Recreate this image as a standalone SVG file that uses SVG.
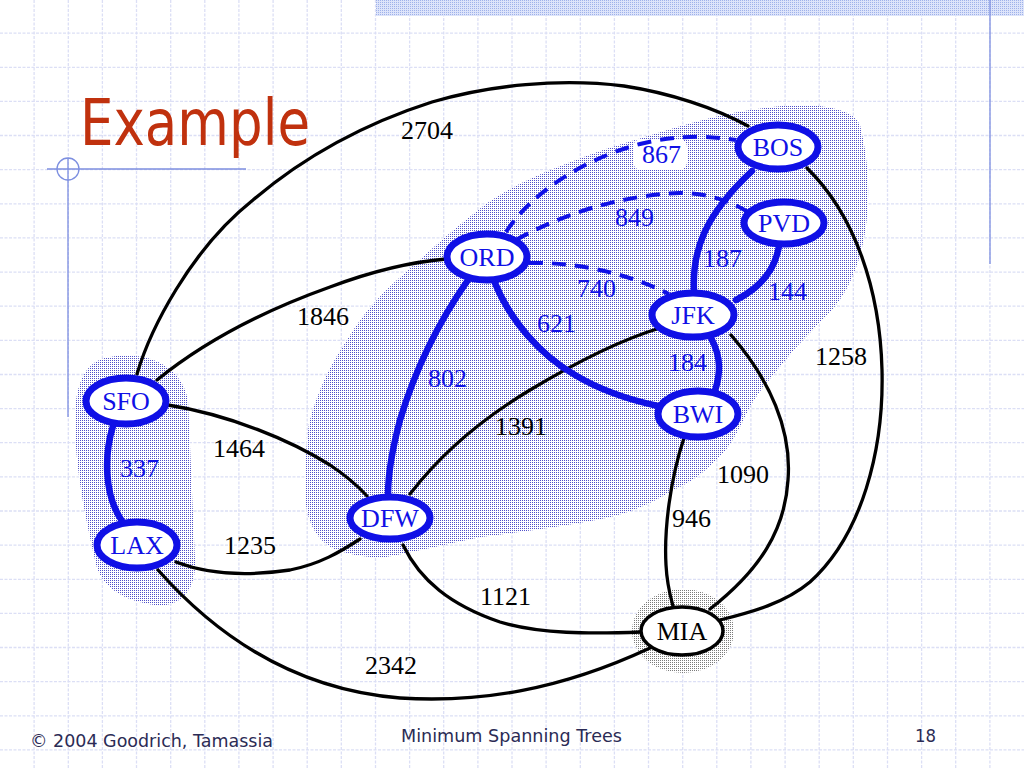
<svg xmlns="http://www.w3.org/2000/svg" width="1024" height="768" viewBox="0 0 1024 768">
<defs>
<pattern id="dots" width="2" height="2" patternUnits="userSpaceOnUse">
<rect width="2" height="2" fill="#ffffff"/>
<rect x="0" y="0" width="1" height="1" fill="#5050c8"/>
</pattern>
<pattern id="gdots" width="2" height="2" patternUnits="userSpaceOnUse">
<rect width="2" height="2" fill="#ffffff"/>
<rect x="0" y="0" width="1" height="1" fill="#7a7a7a"/>
</pattern>
<pattern id="bdots" width="2" height="2" patternUnits="userSpaceOnUse">
<rect width="2" height="2" fill="#dde4fa"/>
<rect x="0" y="0" width="1" height="1" fill="#9fb1ea"/>
</pattern>
</defs>
<style>
.grid{stroke:#dcdff5;stroke-width:1.3;stroke-dasharray:3,1.5;fill:none}
.deco{stroke:#7d8fe0;stroke-width:1.3;fill:none}
.e{fill:none;stroke:#000;stroke-width:3.3;stroke-linecap:round}
.m{fill:none;stroke:#1010e6;stroke-width:6.5;stroke-linecap:round}
.d{fill:none;stroke:#1010e6;stroke-width:4;stroke-dasharray:14,9}
.nb{fill:#fff;stroke:#1010e6;stroke-width:7}
.nk{fill:#fff;stroke:#000;stroke-width:3.5}
.nl{font-family:"Liberation Serif","Times New Roman",serif;font-size:26px;text-anchor:middle;fill:#1010e6}
.nlk{font-family:"Liberation Serif","Times New Roman",serif;font-size:26px;text-anchor:middle;fill:#000}
.w{font-family:"Liberation Serif","Times New Roman",serif;font-size:26px;fill:#000}
.wb{font-family:"Liberation Serif","Times New Roman",serif;font-size:26px;fill:#1010e6}
.ft{font-family:"DejaVu Sans","Liberation Sans",sans-serif;font-size:18px;fill:#2b2b55}
</style>
<rect width="1024" height="768" fill="#ffffff"/>
<g id="grid">
<path class="grid" d="M34.1,0V768M68.3,0V768M102.4,0V768M136.5,0V768M170.7,0V768M204.8,0V768M238.9,0V768M273.1,0V768M307.2,0V768M341.3,0V768M375.5,0V768M409.6,0V768M443.7,0V768M477.9,0V768M512,0V768M546.1,0V768M580.3,0V768M614.4,0V768M648.5,0V768M682.7,0V768M716.8,0V768M750.9,0V768M785.1,0V768M819.2,0V768M853.3,0V768M887.5,0V768M921.6,0V768M955.7,0V768M989.9,0V768"/>
<path class="grid" d="M0,33.1H1024M0,67.3H1024M0,101.4H1024M0,135.5H1024M0,169.7H1024M0,203.8H1024M0,237.9H1024M0,272.1H1024M0,306.2H1024M0,340.3H1024M0,374.5H1024M0,408.6H1024M0,442.7H1024M0,476.9H1024M0,511H1024M0,545.1H1024M0,579.3H1024M0,613.4H1024M0,647.5H1024M0,681.7H1024M0,715.8H1024M0,749.9H1024"/>
</g>
<g id="decoration">
<rect x="376" y="0" width="648" height="16" fill="url(#bdots)"/>
<path class="deco" d="M990,0V264"/>
<path class="deco" d="M47,169H246M68,158V417"/>
<circle class="deco" cx="68" cy="169" r="11"/>
</g>
<g id="regions">
<path fill="url(#dots)" d="M110,357 C150,350 182,368 188,400 L195,560 C197,592 178,608 155,605 C125,601 100,588 95,560 C86,520 75,470 75,420 C75,382 86,360 110,357 Z"/>
<path fill="url(#dots)" d="M347,553 C320,548 305,525 305,490 C305,460 307,440 309,423 C318,390 330,365 347,340 C365,310 385,290 405,273 C430,250 455,228 482,207 C505,190 530,178 558,167 C585,156 610,147 635,140 C675,128 710,116 750,110 C790,104 810,104 826,107 C845,110 855,115 860,125 C866,150 869,175 868,200 C867,230 862,260 846,290 C835,308 828,315 819,323 C805,338 795,348 788,357 C775,372 768,382 761,390 C752,402 747,412 742,423 C733,440 727,450 719,457 C705,472 690,483 673,490 C650,505 625,515 596,520 C560,527 520,532 481,537 C450,543 415,552 386,557 C372,558 358,556 347,553 Z"/>
<ellipse fill="url(#gdots)" cx="683" cy="631" rx="51" ry="42"/>
<rect x="633" y="139" width="54" height="31" rx="8" fill="#ffffff"/>
</g>
<g id="connectors">
<path class="e" d="M137,374 C150,330 190,250 253,200 C300,160 360,125 432,102 C490,85 560,78 624,86 C670,93 715,108 748,126"/>
<path class="e" d="M157,380 C200,345 260,312 330,287 C370,272 410,262 446,259"/>
<path class="e" d="M168,405 C230,415 290,440 330,465 C345,475 358,486 367,496"/>
<path class="e" d="M176,562 C210,575 250,576 290,570 C320,564 340,552 360,539"/>
<path class="e" d="M158,570 C220,640 300,690 400,698 C480,703 560,690 650,648"/>
<path class="e" d="M403,545 C420,580 450,605 500,622 C540,634 590,634 641,632"/>
<path class="e" d="M410,494 C440,455 480,420 530,390 C580,360 620,340 660,328"/>
<path class="e" d="M684,438 C670,480 664,530 666,565 C667,585 670,595 673,606"/>
<path class="e" d="M731,335 C770,380 792,430 788,480 C785,530 760,570 710,609"/>
<path class="e" d="M807,168 C855,215 880,290 882,370 C884,450 862,535 810,582 C785,603 752,612 720,620"/>
<path class="m" d="M113,426 C104,455 104,495 122,521"/>
<path class="m" d="M468,280 C440,320 415,370 400,420 C392,450 388,475 388,495"/>
<path class="m" d="M495,283 C510,320 540,355 575,375 C600,390 630,400 658,406"/>
<path class="m" d="M711,338 C722,358 720,375 715,391"/>
<path class="m" d="M694,291 C692,250 705,215 752,171"/>
<path class="m" d="M736,300 C760,288 775,270 779,246"/>
<path class="d" d="M506,232 C530,195 580,160 640,144 C680,134 710,136 736,140"/>
<path class="d" d="M516,240 C560,215 620,195 680,193 C710,193 735,203 751,214"/>
<path class="d" d="M529,263 C570,262 620,270 669,294"/>
</g>
<g id="edge-labels">
<text class="w" x="401" y="139">2704</text>
<text class="wb" x="642" y="163">867</text>
<text class="wb" x="615" y="226">849</text>
<text class="wb" x="703" y="267">187</text>
<text class="wb" x="577" y="297">740</text>
<text class="wb" x="768" y="300">144</text>
<text class="wb" x="537" y="332">621</text>
<text class="wb" x="428" y="387">802</text>
<text class="wb" x="668" y="371">184</text>
<text class="wb" x="120" y="477">337</text>
<text class="w" x="297" y="325">1846</text>
<text class="w" x="213" y="457">1464</text>
<text class="w" x="224" y="554">1235</text>
<text class="w" x="495" y="435">1391</text>
<text class="w" x="672" y="527">946</text>
<text class="w" x="717" y="483">1090</text>
<text class="w" x="815" y="365">1258</text>
<text class="w" x="480" y="605">1121</text>
<text class="w" x="365" y="674">2342</text>
</g>
<g id="BOS"><ellipse class="nb" cx="778" cy="147" rx="40" ry="22"/><text class="nl" x="778" y="156">BOS</text></g>
<g id="PVD"><ellipse class="nb" cx="784" cy="223" rx="40" ry="21"/><text class="nl" x="784" y="232">PVD</text></g>
<g id="ORD"><ellipse class="nb" cx="487" cy="257" rx="40" ry="23"/><text class="nl" x="487" y="266">ORD</text></g>
<g id="JFK"><ellipse class="nb" cx="693" cy="315" rx="41" ry="22"/><text class="nl" x="693" y="324">JFK</text></g>
<g id="BWI"><ellipse class="nb" cx="698" cy="414" rx="40" ry="23"/><text class="nl" x="698" y="423">BWI</text></g>
<g id="DFW"><ellipse class="nb" cx="390" cy="518" rx="40" ry="21"/><text class="nl" x="390" y="527">DFW</text></g>
<g id="SFO"><ellipse class="nb" cx="126" cy="401" rx="40" ry="23"/><text class="nl" x="126" y="410">SFO</text></g>
<g id="LAX"><ellipse class="nb" cx="137" cy="545" rx="40" ry="23"/><text class="nl" x="137" y="554">LAX</text></g>
<g id="MIA"><ellipse class="nk" cx="682" cy="631" rx="41" ry="24"/><text class="nlk" x="682" y="640">MIA</text></g>
<g id="title">
<text x="80" y="145" font-family="DejaVu Sans, Liberation Sans, sans-serif" font-size="64" fill="#c0310e" textLength="230" lengthAdjust="spacingAndGlyphs">Example</text>
</g>
<g id="footer">
<text class="ft" x="30" y="747" textLength="243" lengthAdjust="spacingAndGlyphs">© 2004 Goodrich, Tamassia</text>
<text class="ft" x="401" y="742" textLength="221" lengthAdjust="spacingAndGlyphs">Minimum Spanning Trees</text>
<text class="ft" x="915" y="742" textLength="21" lengthAdjust="spacingAndGlyphs">18</text>
</g>
</svg>
